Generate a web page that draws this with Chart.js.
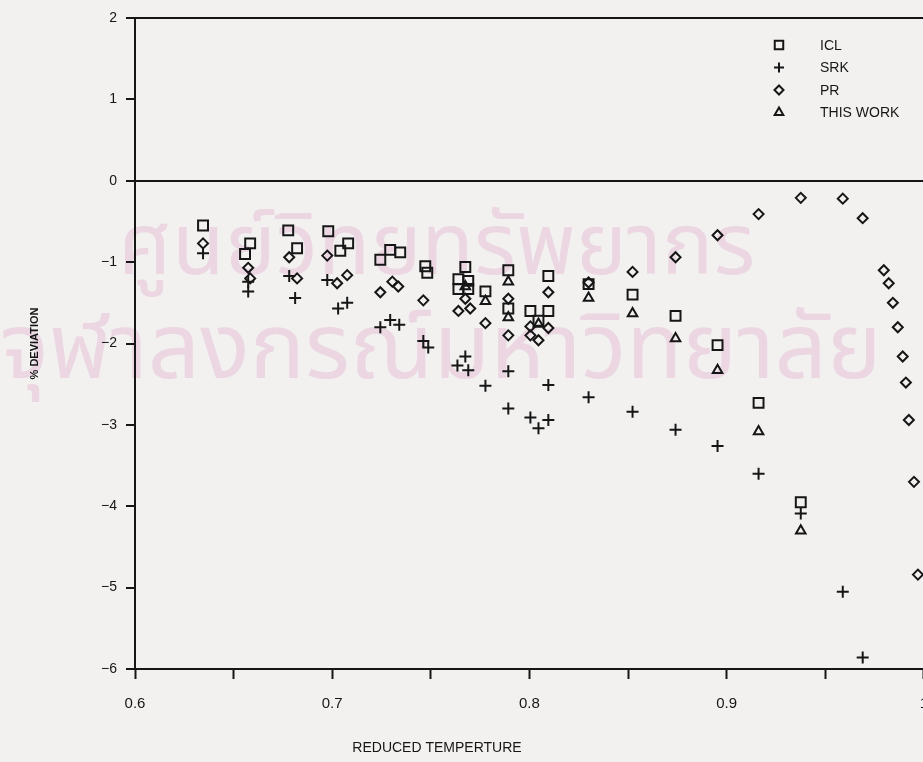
<!DOCTYPE html>
<html>
<head>
<meta charset="utf-8">
<title>% Deviation vs Reduced Temperature</title>
<script src="https://cdn.jsdelivr.net/npm/chart.js@4.4.1/dist/chart.umd.min.js"></script>
<style>
  html, body { margin: 0; padding: 0; background: #f2f1f0; overflow: hidden; }
  #wrap { position: relative; width: 944px; height: 762px; }
  .wm { position: absolute; white-space: nowrap; color: rgba(220, 160, 195, 0.32);
        font-family: "Noto Sans Thai", "Noto Sans", "DejaVu Sans", sans-serif; }
  canvas { position: absolute; left: 0; top: 0; }
</style>
</head>
<body>
<div id="wrap">
  <div class="wm" style="left:118px; top:183px; font-size:86px;">ศูนย์วิทยทรัพยากร</div>
  <div class="wm" style="left:0px; top:280px; font-size:92px;">จุฬาลงกรณ์มหาวิทยาลัย</div>
  <canvas id="chart" width="944" height="762"></canvas>
</div>
<script>
// values
const iclT   = [0.6345, 0.6584, 0.6558, 0.6777, 0.6822, 0.698, 0.7041, 0.7081, 0.7244, 0.7294, 0.7345,
                0.7472, 0.7482, 0.7675, 0.764, 0.769, 0.764, 0.769, 0.7777, 0.7893, 0.7893,
                0.8005, 0.8046, 0.8096, 0.8096, 0.830, 0.8523, 0.8741, 0.8954, 0.9162, 0.9376];
const iclDev = [-0.55, -0.77, -0.90, -0.61, -0.83, -0.62, -0.86, -0.77, -0.97, -0.85, -0.88,
                -1.05, -1.13, -1.06, -1.21, -1.23, -1.33, -1.33, -1.36, -1.10, -1.57,
                -1.60, -1.72, -1.60, -1.17, -1.27, -1.40, -1.66, -2.02, -2.73, -3.95];

const srkT   = [0.6345, 0.6574, 0.6574, 0.6782, 0.6812, 0.6975, 0.703, 0.7076, 0.7244, 0.7294, 0.734,
                0.7462, 0.7487, 0.7675, 0.7635, 0.769, 0.7777, 0.7893, 0.7893,
                0.8005, 0.8046, 0.8096, 0.8096, 0.830, 0.8523, 0.8741, 0.8954, 0.9162, 0.9376,
                0.9589, 0.969];
const srkDev = [-0.89, -1.24, -1.36, -1.17, -1.44, -1.22, -1.57, -1.50, -1.80, -1.71, -1.77,
                -1.97, -2.05, -2.16, -2.27, -2.33, -2.52, -2.34, -2.80,
                -2.91, -3.04, -2.94, -2.51, -2.66, -2.84, -3.06, -3.26, -3.60, -4.09,
                -5.05, -5.86];

const prT    = [0.6345, 0.6574, 0.6584, 0.6782, 0.6822, 0.6975, 0.7025, 0.7076, 0.7244, 0.7305, 0.7335,
                0.7462, 0.7675, 0.764, 0.770, 0.7777, 0.7893, 0.7893,
                0.8005, 0.8005, 0.8046, 0.8096, 0.8096, 0.830, 0.8523, 0.8741, 0.8954, 0.9162, 0.9376,
                0.9589, 0.969, 0.9797, 0.9822, 0.9843, 0.9868, 0.9893, 0.9909, 0.9924, 0.995, 0.997];
const prDev  = [-0.77, -1.07, -1.20, -0.94, -1.20, -0.92, -1.26, -1.16, -1.37, -1.24, -1.30,
                -1.47, -1.45, -1.60, -1.57, -1.75, -1.45, -1.90,
                -1.79, -1.90, -1.96, -1.81, -1.37, -1.25, -1.12, -0.94, -0.67, -0.41, -0.21,
                -0.22, -0.46, -1.10, -1.26, -1.50, -1.80, -2.16, -2.48, -2.94, -3.70, -4.84];

const thisT   = [0.7675, 0.7777, 0.7893, 0.7893, 0.8046, 0.830, 0.8523, 0.8741, 0.8954, 0.9162, 0.9376];
const thisDev = [-1.30, -1.48, -1.24, -1.68, -1.76, -1.44, -1.63, -1.94, -2.33, -3.08, -4.30];

const seriesNames = ['ICL', 'SRK', 'PR', 'THIS WORK'];
const xLabelTicks = [0.6, 0.7, 0.8, 0.9, 1.0];
const yTickValues = [2, 1, 0, -1, -2, -3, -4, -5, -6];

const ink = '#161616';
const fontFam = '"Liberation Sans", Arial, Helvetica, sans-serif';

function pts(xs, ys) {
    return xs.map(function(x, i) { return {x: x, y: ys[i]}; });
}

function markerSet(label, data, style, radius, legendRadius) {
    return {
        label: label,
        data: data,
        showLine: false,
        pointStyle: style,
        pointRadius: radius,
        pointHoverRadius: radius,
        pointBorderWidth: 2,
        pointBorderColor: ink,
        pointBackgroundColor: 'rgba(0,0,0,0)',
        legendRadius: legendRadius
    };
}

// legend drawn inside the plot, top right, like the original figure
const plotLegend = {
    id: 'plotLegend',
    afterDatasetsDraw(chart) {
        const ctx = chart.ctx;
        chart.data.datasets.forEach(function(ds, i) {
            const y = 45 + i * 22.5;
            ctx.save();
            ctx.strokeStyle = ink;
            ctx.fillStyle = 'rgba(0,0,0,0)';
            ctx.lineWidth = 2;
            Chart.helpers.drawPoint(ctx, {pointStyle: ds.pointStyle, radius: ds.legendRadius, borderWidth: 2, rotation: 0}, 779, y);
            ctx.restore();
            ctx.save();
            ctx.fillStyle = ink;
            ctx.font = '14px ' + fontFam;
            ctx.textBaseline = 'middle';
            ctx.textAlign = 'left';
            ctx.fillText(ds.label, 820, y + 1);
            ctx.restore();
        });
    }
};

// x axis title sits left of centre in the scan
const xTitle = {
    id: 'xTitle',
    afterDraw(chart) {
        const ctx = chart.ctx;
        ctx.save();
        ctx.fillStyle = ink;
        ctx.font = '14px ' + fontFam;
        ctx.textAlign = 'center';
        ctx.textBaseline = 'middle';
        ctx.fillText('REDUCED TEMPERTURE', 437, 748);
        ctx.restore();
    }
};

const ctx = document.getElementById('chart').getContext('2d');
new Chart(ctx, {
    type: 'scatter',
    data: {
        datasets: [
            markerSet(seriesNames[0], pts(iclT, iclDev), 'rect', 7, 6),
            markerSet(seriesNames[1], pts(srkT, srkDev), 'cross', 6, 5),
            markerSet(seriesNames[2], pts(prT, prDev), 'rectRot', 5, 4.5),
            markerSet(seriesNames[3], pts(thisT, thisDev), 'triangle', 5.5, 5)
        ]
    },
    options: {
        responsive: false,
        animation: false,
        layout: { padding: { top: 18, left: 0, right: 0, bottom: 0 } },
        plugins: {
            legend: { display: false },
            tooltip: { enabled: false }
        },
        scales: {
            x: {
                type: 'linear',
                min: 0.6,
                max: 1.0,
                afterFit: function(s) { s.height = 93; },
                ticks: {
                    stepSize: 0.05,
                    autoSkip: false,
                    maxRotation: 0,
                    padding: 16,
                    color: ink,
                    font: { family: fontFam, size: 15 },
                    callback: function(v) {
                        const hit = xLabelTicks.find(function(t) { return Math.abs(t - v) < 1e-6; });
                        if (hit === undefined) return '';
                        return hit === 1 ? '1' : hit.toFixed(1);
                    }
                },
                grid: { drawOnChartArea: false, tickLength: 10, tickWidth: 2, tickColor: ink },
                border: { color: ink, width: 2 }
            },
            y: {
                min: yTickValues[yTickValues.length - 1],
                max: yTickValues[0],
                afterFit: function(s) { s.width = 135; },
                ticks: {
                    stepSize: 1,
                    padding: 9,
                    color: ink,
                    font: { family: fontFam, size: 14 },
                    callback: function(v) { return v < 0 ? '\u2212' + Math.abs(v) : String(v); }
                },
                grid: {
                    color: function(c) {
                        return (c.tick && (c.tick.value === 0 || c.tick.value === 2)) ? ink : 'rgba(0,0,0,0)';
                    },
                    lineWidth: 2,
                    tickColor: ink,
                    tickLength: 9,
                    tickWidth: 2
                },
                border: { color: ink, width: 2 },
                title: {
                    display: true,
                    text: '% DEVIATION',
                    color: ink,
                    font: { family: fontFam, size: 11, weight: 'bold' },
                    padding: { top: 28, bottom: 0 }
                }
            }
        }
    },
    plugins: [plotLegend, xTitle]
});
</script>
</body>
</html>
